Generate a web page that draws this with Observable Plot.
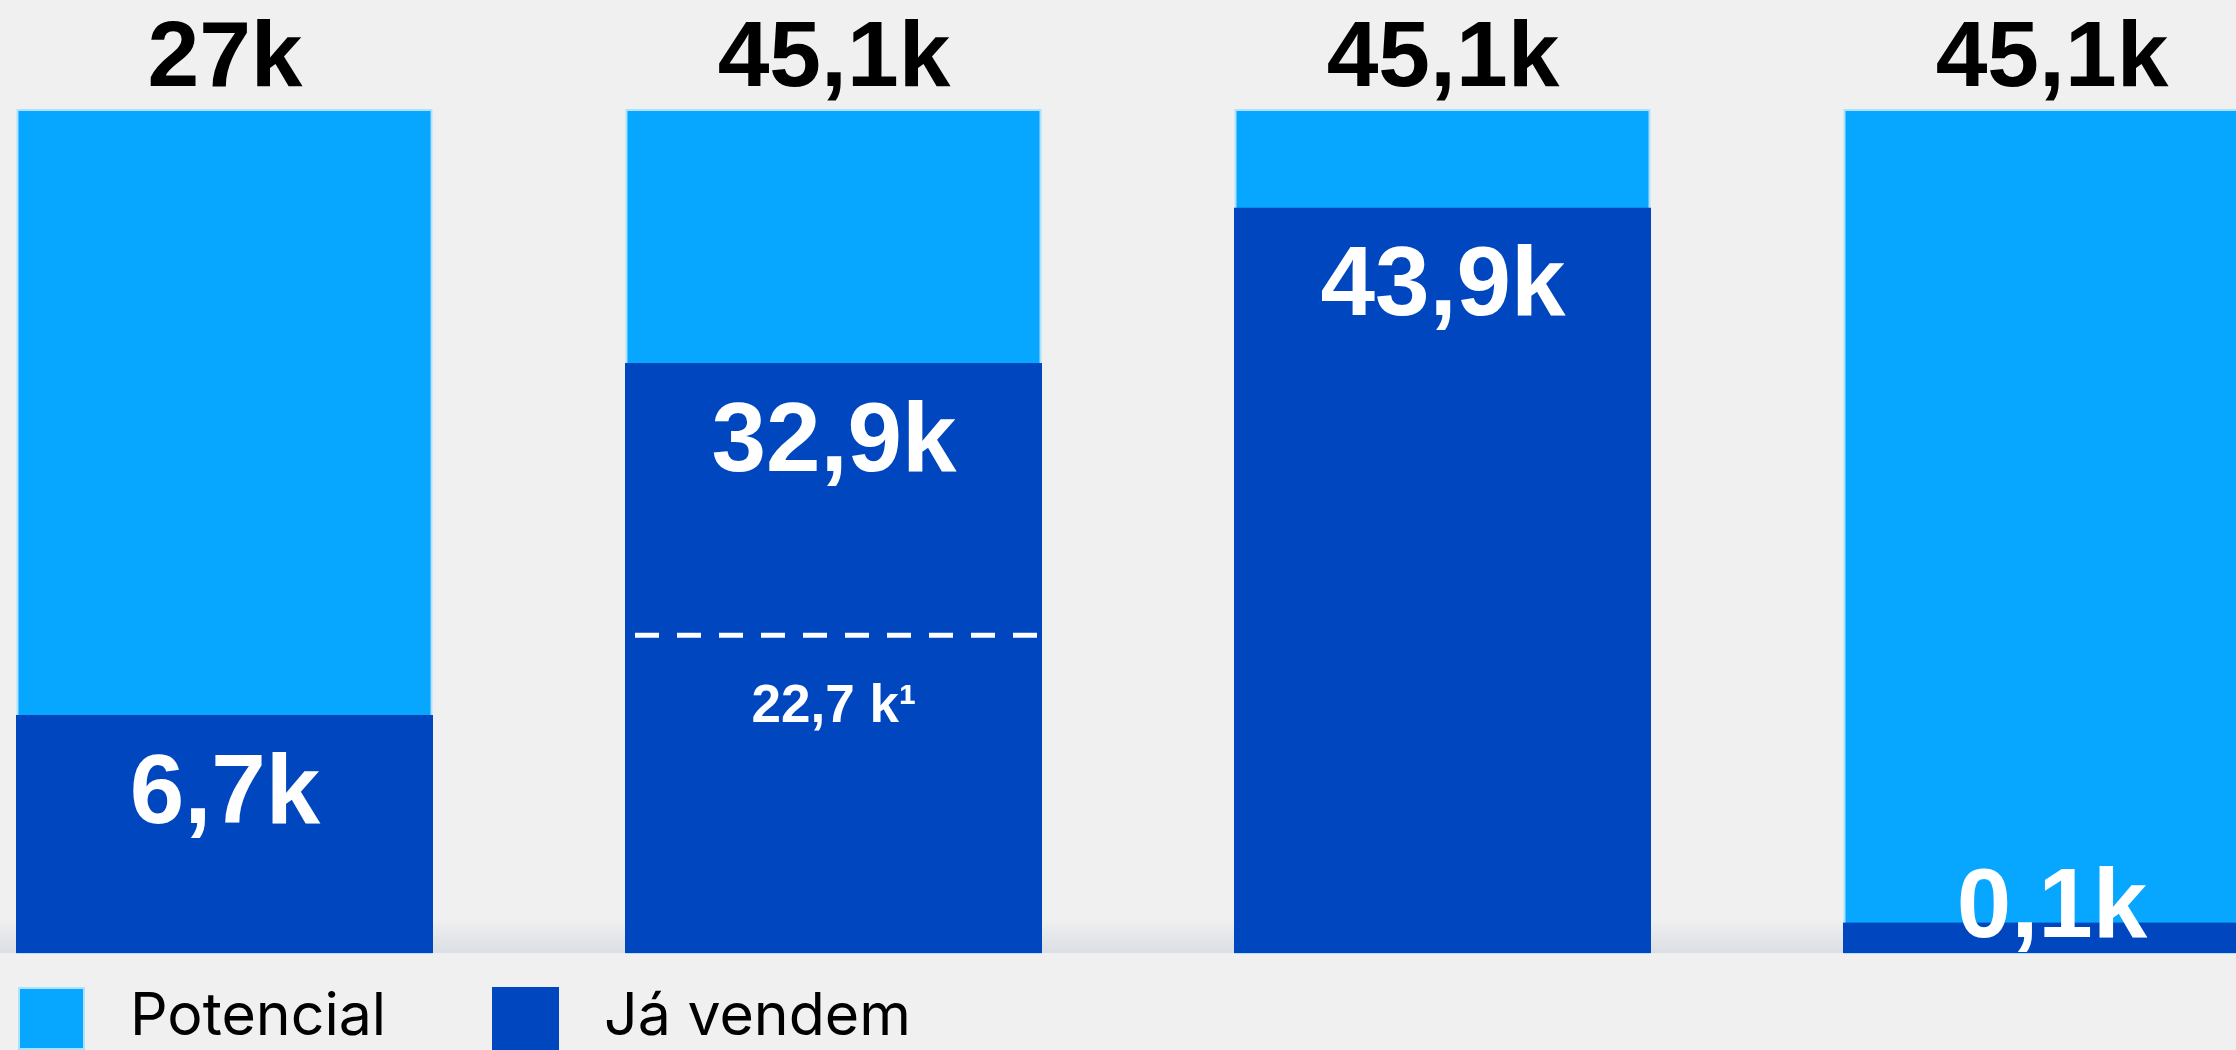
<!DOCTYPE html>
<html>
<head>
<meta charset="utf-8">
<script src="https://cdn.jsdelivr.net/npm/d3@7"></script>
<script src="https://cdn.jsdelivr.net/npm/@observablehq/plot@0.6"></script>
<style>
  html, body { margin: 0; padding: 0; background: #f0f0f0; width: 2236px; height: 1050px; overflow: hidden; }
  #chart svg { display: block; }
  #legend { display: flex; align-items: flex-start; margin-top: 12px; padding-left: 18px; font-family: Inter, "Liberation Sans", Arial, sans-serif; font-size: 59px; color: #000; }
  .item { display: flex; align-items: flex-start; }
  .item .sw { width: 67px; height: 63px; box-sizing: border-box; margin-right: 45px; }
  .item .lb { line-height: 52px; margin-top: 1px; }
</style>
</head>
<body>
<div id="chart"></div>
<div id="legend"></div>
<script>
// ---- data ----
const categories = ["A", "B", "C", "D"];
const totalLabels = ["27k", "45,1k", "45,1k", "45,1k"];
const soldLabels = ["6,7k", "32,9k", "43,9k", "0,1k"];
const potentialShare = [100, 100, 100, 100];     // bar height as drawn (% of full bar)
const soldShare = [28.2, 69.9, 88.3, 3.6];        // dark segment as drawn (% of full bar)
const benchmarkCategory = ["B"];
const benchmarkShare = [37.7];
const benchmarkLabel = ["22,7 k\u00B9"];
const seriesNames = ["Potencial", "Já vendem"];

const LIGHT = "#07a6ff";
const DARK = "#0047bf";
const colors = [LIGHT, DARK];

const data = categories.map((c, i) => ({
  cat: c, total: totalLabels[i], sold: soldLabels[i],
  potential: potentialShare[i], share: soldShare[i]
}));
const bench = benchmarkCategory.map((c, i) => ({cat: c, share: benchmarkShare[i], label: benchmarkLabel[i]}));

// soft shadow band above the baseline
function shadow(index, scales, values, dims) {
  const ns = "http://www.w3.org/2000/svg";
  const g = document.createElementNS(ns, "g");
  const defs = document.createElementNS(ns, "defs");
  const grad = document.createElementNS(ns, "linearGradient");
  grad.setAttribute("id", "baseShadow");
  grad.setAttribute("x1", "0"); grad.setAttribute("y1", "0");
  grad.setAttribute("x2", "0"); grad.setAttribute("y2", "1");
  [["0", "#f0f0f0"], ["1", "#dbdee4"]].forEach(([o, c]) => {
    const s = document.createElementNS(ns, "stop");
    s.setAttribute("offset", o); s.setAttribute("stop-color", c);
    grad.appendChild(s);
  });
  defs.appendChild(grad);
  g.appendChild(defs);
  const yb = dims.height - dims.marginBottom;
  const r = document.createElementNS(ns, "rect");
  r.setAttribute("x", 0);
  r.setAttribute("y", yb - 34);
  r.setAttribute("width", dims.width);
  r.setAttribute("height", 34);
  r.setAttribute("fill", "url(#baseShadow)");
  g.appendChild(r);
  return g;
}

const chart = Plot.plot({
  width: 2236,
  height: 975,
  marginTop: 109,
  marginBottom: 22,
  marginLeft: 14,
  marginRight: 0,
  style: {background: "transparent", fontFamily: "'Liberation Sans', Arial, sans-serif"},
  x: {domain: categories, range: [14, 2261], paddingInner: 0.316, paddingOuter: 0, axis: null},
  y: {domain: [0, 100], axis: null},
  marks: [
    shadow,
    Plot.barY(data, {x: "cat", y: "potential", fill: LIGHT, stroke: "#aee1fb", strokeWidth: 2, insetLeft: 1.5, insetRight: 1.5, insetTop: 1}),
    Plot.barY(data, {x: "cat", y: "share", fill: DARK}),
    Plot.tickY(bench, {x: "cat", y: "share", stroke: "#fff", strokeWidth: 5, strokeDasharray: "24 18", insetLeft: 10, insetRight: 5}),
    Plot.text(data, {x: "cat", y: "potential", text: "total", lineAnchor: "bottom", dy: -24, fontSize: 93, fontWeight: 700, fill: "#000"}),
    Plot.text(data, {x: "cat", y: d => Math.max(d.share - 12.7, 1.9), text: "sold", lineAnchor: "bottom", fontSize: 98, fontWeight: 700, fill: "#fff"}),
    Plot.text(bench, {x: "cat", y: "share", text: "label", lineAnchor: "bottom", dy: 87, fontSize: 53, fontWeight: 700, fill: "#fff"})
  ]
});
document.getElementById("chart").appendChild(chart);

// legend
const legend = document.getElementById("legend");
seriesNames.forEach((name, i) => {
  const item = document.createElement("div");
  item.className = "item";
  if (i === 0) item.style.width = "474px";
  const sw = document.createElement("div");
  sw.className = "sw";
  sw.style.background = colors[i];
  if (i === 0) sw.style.border = "2px solid #aee1fb";
  const lb = document.createElement("div");
  lb.className = "lb";
  lb.textContent = name;
  item.appendChild(sw);
  item.appendChild(lb);
  legend.appendChild(item);
});
</script>
</body>
</html>
